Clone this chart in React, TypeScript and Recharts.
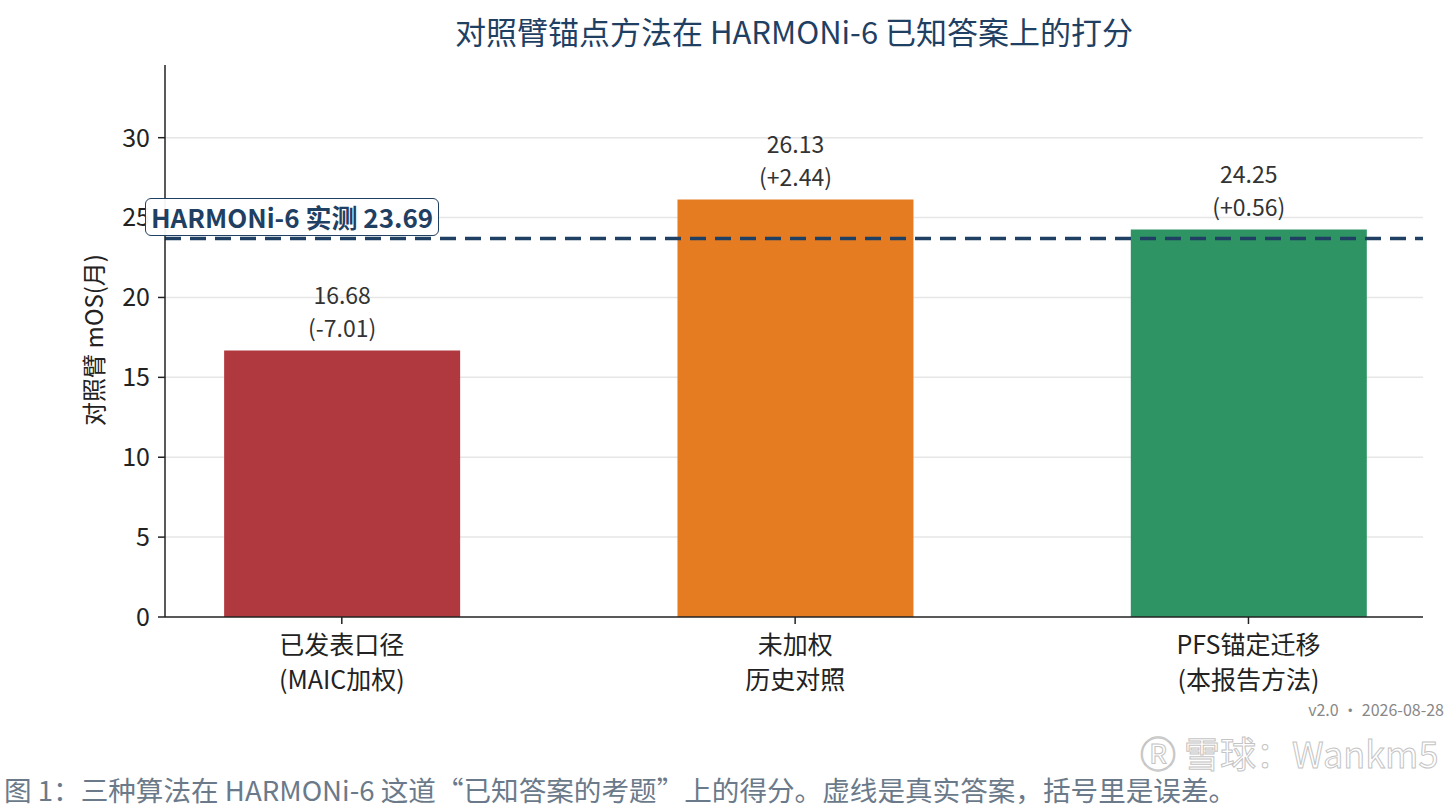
import React from "react";
import {
  ComposedChart, Bar, Cell, XAxis, YAxis, CartesianGrid, ReferenceLine, LabelList,
} from "recharts";

const categories = [
  ["已发表口径", "(MAIC加权)"],
  ["未加权", "历史对照"],
  ["PFS锚定迁移", "(本报告方法)"],
];
const mosValues = [16.68, 26.13, 24.25];
const errors = ["-7.01", "+2.44", "+0.56"];
const barColors = ["#b0383f", "#e67c22", "#2e9463"];
const actualMos = 23.69;
const yTicks = [0, 5, 10, 15, 20, 25, 30];
const yMax = 34.55;

const data = mosValues.map((v, i) => ({ x: i, value: v, err: errors[i] }));

const FONT = '"Noto Sans CJK SC", "Noto Sans", sans-serif';
const NAVY = "#1f3f63";

// plot box, shared by the chart margins and the overlay label
const PLOT_TOP = 65;
const PLOT_H = 552;

const CategoryTick = (props: any) => {
  const { x, y, payload } = props;
  const lines = categories[payload.value] || [];
  return (
    <g transform={`translate(${x},${y})`}>
      {lines.map((t, i) => (
        <text key={i} x={0} y={28 + i * 35} textAnchor="middle" fill="#222" fontSize={25} fontFamily={FONT}>
          {t}
        </text>
      ))}
    </g>
  );
};

const ValueLabel = (props: any) => {
  const { x, y, width, index } = props;
  const cx = x + width / 2;
  return (
    <g>
      <text x={cx} y={y - 47} textAnchor="middle" fill="#333" fontSize={23} fontFamily={FONT}>
        {mosValues[index].toFixed(2)}
      </text>
      <text x={cx} y={y - 14} textAnchor="middle" fill="#333" fontSize={23} fontFamily={FONT}>
        ({errors[index]})
      </text>
    </g>
  );
};

export default function App() {
  const lineY = PLOT_TOP + (1 - actualMos / yMax) * PLOT_H;
  return (
    <div style={{ position: "absolute", left: 0, top: 0, width: 1452, height: 810, background: "#fff", fontFamily: FONT, overflow: "hidden" }}>
      <div style={{ position: "absolute", left: 165, width: 1258, top: 8, textAlign: "center", fontSize: 31, color: NAVY, whiteSpace: "nowrap" }}>
        对照臂锚点方法在 HARMONi-6 已知答案上的打分
      </div>
      <ComposedChart
        width={1452}
        height={810}
        data={data}
        margin={{ top: PLOT_TOP, right: 29, bottom: 810 - PLOT_TOP - PLOT_H - 80, left: 105 }}
      >
        <CartesianGrid horizontal vertical={false} horizontalValues={[5, 10, 15, 20, 25, 30]} stroke="#e6e6e6" strokeWidth={1.5} />
        <XAxis
          dataKey="x"
          type="number"
          domain={[-0.39, 2.385]}
          ticks={[0, 1, 2]}
          allowDataOverflow
          height={80}
          tick={<CategoryTick />}
          tickLine={{ stroke: "#222", strokeWidth: 1.5 }}
          tickSize={7}
          axisLine={{ stroke: "#222", strokeWidth: 1.5 }}
        />
        <YAxis
          type="number"
          domain={[0, yMax]}
          ticks={yTicks}
          allowDataOverflow
          width={60}
          tick={{ fill: "#222", fontSize: 25, fontFamily: FONT }}
          tickLine={{ stroke: "#222", strokeWidth: 1.5 }}
          tickSize={7}
          tickMargin={8}
          axisLine={{ stroke: "#222", strokeWidth: 1.5 }}
        />
        <Bar dataKey="value" barSize={236} isAnimationActive={false}>
          {data.map((d, i) => (
            <Cell key={i} fill={barColors[i]} />
          ))}
          <LabelList dataKey="value" content={<ValueLabel />} />
        </Bar>
        <ReferenceLine y={actualMos} stroke={NAVY} strokeWidth={3.5} strokeDasharray="16 9" />
      </ComposedChart>
      <div
        style={{
          position: "absolute", left: 145, top: lineY - 41, width: 292, height: 36,
          border: `1.6px solid ${NAVY}`, borderRadius: 6, background: "rgba(255,255,255,0.94)",
          color: NAVY, fontSize: 26, fontWeight: "bold", lineHeight: "36px", textAlign: "center", whiteSpace: "nowrap",
        }}
      >
        HARMONi-6 实测 {actualMos.toFixed(2)}
      </div>
      <div style={{ position: "absolute", left: 92, top: 340, transform: "translate(-50%, -50%) rotate(-90deg)", whiteSpace: "nowrap", fontSize: 24, color: "#222" }}>
        对照臂 mOS(月)
      </div>
      <div style={{ position: "absolute", right: 8, top: 697, fontSize: 16, color: "#888", whiteSpace: "nowrap" }}>
        v2.0 · 2026-08-28
      </div>
      <div style={{ position: "absolute", left: 1140, top: 726, fontSize: 36, color: "#fff", WebkitTextStroke: "1px #c4c4c4", whiteSpace: "nowrap" }}>
        Ⓡ 雪球：Wankm5
      </div>
      <div style={{ position: "absolute", left: 4, top: 769, fontSize: 27.6, color: "#6b7a8a", whiteSpace: "nowrap" }}>
        图 1：三种算法在 HARMONi-6 这道“已知答案的考题”上的得分。虚线是真实答案，括号里是误差。
      </div>
    </div>
  );
}
